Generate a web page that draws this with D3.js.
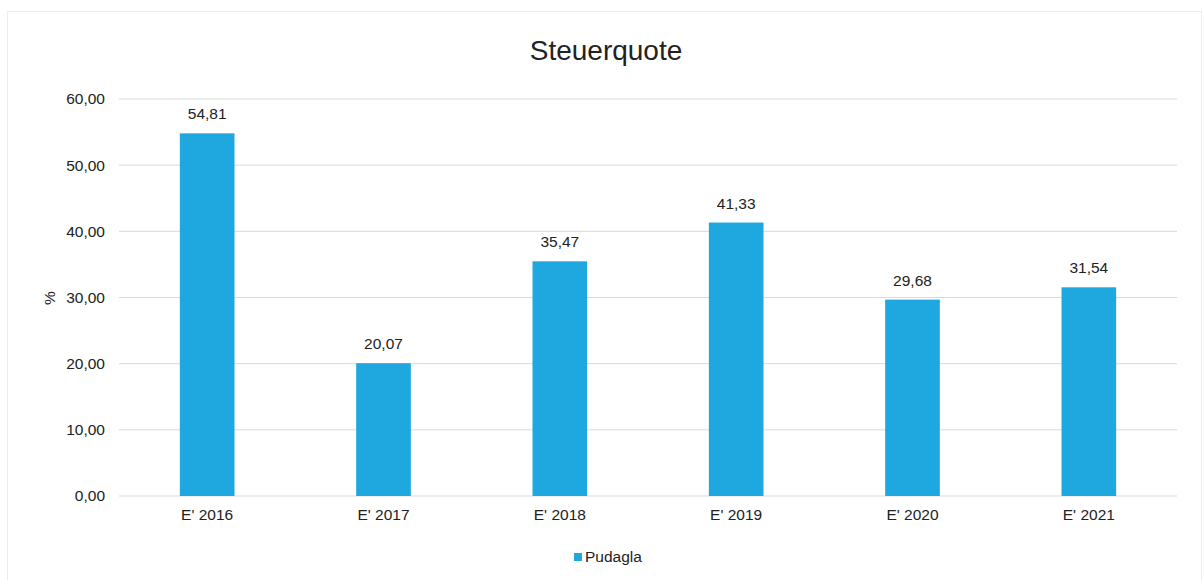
<!DOCTYPE html>
<html><head><meta charset="utf-8">
<script src="https://cdn.jsdelivr.net/npm/d3@7"></script>
<style>body{margin:0;background:#fff;} text{font-family:"Liberation Sans",Arial,sans-serif;fill:#222;}</style>
</head><body>
<svg id="c" width="1204" height="580"></svg>
<script>
const categories = ["E' 2016","E' 2017","E' 2018","E' 2019","E' 2020","E' 2021"];
const values = [54.81, 20.07, 35.47, 41.33, 29.68, 31.54];
const yTicks = [0,10,20,30,40,50,60];
const seriesName = "Pudagla";
const title = "Steuerquote";
const yLabel = "%";

const svg = d3.select("#c");
const fmt = v => d3.format(".2f")(v).replace(".", ",");
const FS = "15.5px";
svg.append("rect").attr("x",7.5).attr("y",11.5).attr("width",1194).attr("height",580)
  .attr("fill","#fff").attr("stroke","#ececec");

const x = d3.scaleBand().domain(categories).range([119,1177]).paddingInner(0.69).paddingOuter(0.345);
const y = d3.scaleLinear().domain([0,60]).range([496,99]);

svg.append("g").selectAll("line").data(yTicks).join("line")
  .attr("x1",119).attr("x2",1177).attr("y1",d=>y(d)).attr("y2",d=>y(d))
  .attr("stroke","#d9d9d9").attr("stroke-width",1);

const yAxis = svg.append("g").attr("transform","translate(119,0)")
  .call(d3.axisLeft(y).tickValues(yTicks).tickFormat(fmt).tickSize(0).tickPadding(14));
yAxis.select(".domain").remove();
yAxis.selectAll("text").style("font-size",FS).style("font-family","Liberation Sans, Arial").attr("fill","#222");

const xAxis = svg.append("g").attr("transform","translate(0,496)")
  .call(d3.axisBottom(x).tickSize(0).tickPadding(13));
xAxis.select(".domain").remove();
xAxis.selectAll("text").style("font-size",FS).style("font-family","Liberation Sans, Arial").attr("fill","#222");

svg.append("g").selectAll("rect").data(values).join("rect")
  .attr("x",(d,i)=>x(categories[i])).attr("width",x.bandwidth())
  .attr("y",d=>y(d)).attr("height",d=>y(0)-y(d)).attr("fill","#1fa8df");

svg.append("g").selectAll("text").data(values).join("text")
  .attr("x",(d,i)=>x(categories[i])+x.bandwidth()/2).attr("y",d=>y(d)-14)
  .attr("text-anchor","middle").style("font-size",FS).text(fmt);

svg.append("text").attr("x",606).attr("y",60).attr("text-anchor","middle")
  .style("font-size","28px").text(title);

svg.append("text").attr("transform","translate(55,298) rotate(-90)").attr("text-anchor","middle")
  .style("font-size",FS).text(yLabel);

svg.append("rect").attr("x",574).attr("y",553).attr("width",8).attr("height",8).attr("fill","#1fa8df");
svg.append("text").attr("x",585).attr("y",562).style("font-size",FS).text(seriesName);
</script>
</body></html>
